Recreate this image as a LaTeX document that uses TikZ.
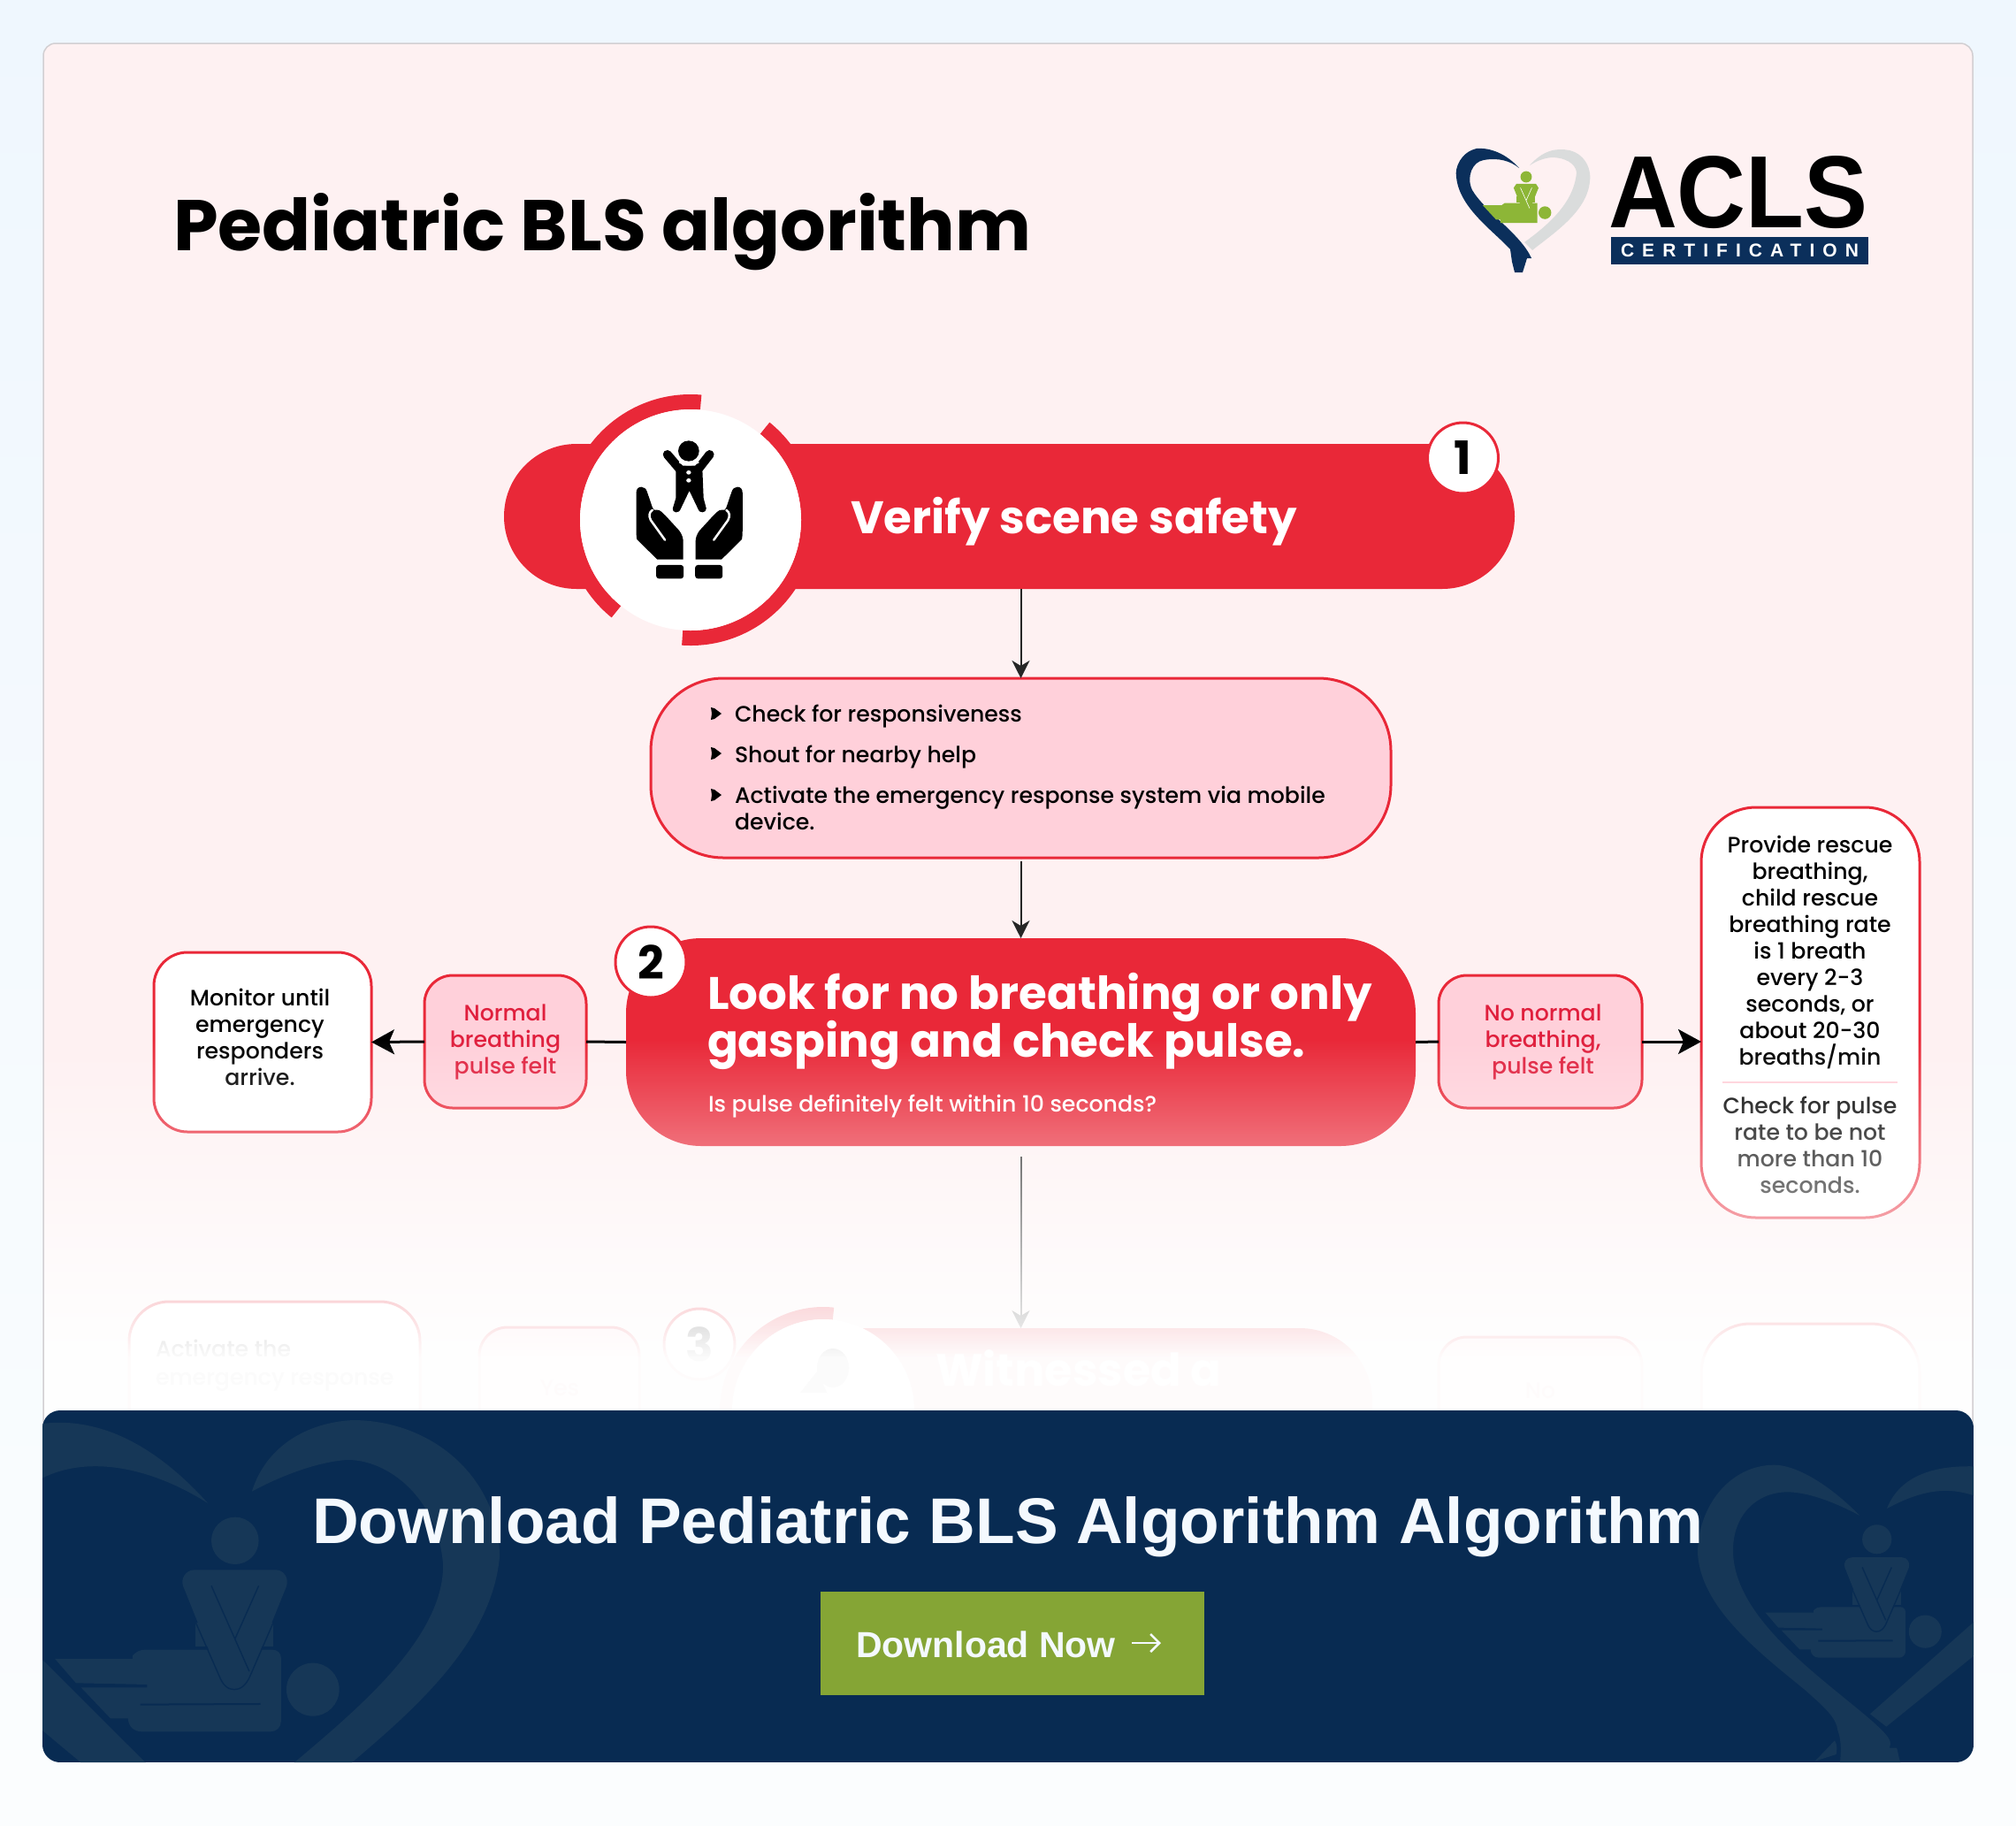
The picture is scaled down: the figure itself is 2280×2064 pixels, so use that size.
\documentclass[tikz,border=0pt]{standalone}
\usepackage{fontspec}
\usetikzlibrary{arrows.meta,fadings,calc}
\newfontfamily\popr{Poppins}
\newfontfamily\popm{Poppins Medium}
\newfontfamily\popb{Poppins}[UprightFont=* Bold]
\newfontfamily\libb{Liberation Sans}[UprightFont=* Bold]
\definecolor{pagetop}{HTML}{EFF7FE}
\definecolor{pagebot}{HTML}{FBFDFE}
\definecolor{cardbg}{HTML}{FEF1F2}
\definecolor{cardline}{HTML}{D2CFD2}
\definecolor{bred}{HTML}{E92838}
\definecolor{bpink}{HTML}{FFD0DA}
\definecolor{tred}{HTML}{E01F3D}
\definecolor{navy}{HTML}{082B52}
\definecolor{navyl}{HTML}{163757}
\definecolor{logonavy}{HTML}{0B2F5B}
\definecolor{logogrey}{HTML}{DADCDC}
\definecolor{logogreen}{HTML}{8DB637}
\definecolor{btn}{HTML}{85A535}
\definecolor{btxt}{HTML}{F4F9FE}
\tikzfading[name=cardfade,top color=transparent!100,bottom color=transparent!0]
\newcommand{\fs}[1]{\fontsize{#1}{#1}\selectfont}
% CPR figure, drawn in the coordinates of the large banner figure
\newcommand{\cprfigure}[2]{%
  \fill[#1] (590,457) ellipse [x radius=70,y radius=80];
  \fill[#1] (820,962) ellipse [x radius=78,y radius=90];
  \fill[#1] (472,735) rectangle (703,815);
  \fill[#1] (288,846) .. controls (300,832) and (310,827) .. (325,827) -- (700,827)
     .. controls (715,827) and (726,838) .. (726,855) -- (726,1070)
     .. controls (726,1090) and (712,1105) .. (695,1105) -- (315,1105)
     .. controls (290,1105) and (274,1085) .. (274,1060) -- (222,1060) -- (135,955)
     -- (330,955) -- (330,945) -- (120,940) -- (58,858) -- (288,858) -- cycle;
  \draw[#2,line width=2pt] (310,1013) -- (665,1011);
  \fill[#1] (470,556) -- (710,556) .. controls (735,556) and (750,585) .. (742,612)
     -- (635,915) .. controls (622,950) and (605,962) .. (588,962)
     .. controls (570,962) and (555,950) .. (543,915) -- (437,612)
     .. controls (428,585) and (445,556) .. (470,556) -- cycle;
  \draw[#2,line width=1.4pt] (520,610) -- (632,900) (660,610) -- (590,790);
  \draw[#2,line width=1.4pt] (474,735) -- (543,915) .. controls (555,950) and (570,962) .. (588,962)
     .. controls (605,962) and (622,950) .. (635,915) -- (703,735);
}
\tikzset{
  every node/.style={inner sep=0pt,outer sep=0pt},
  red lw/.style={line width=3pt},
  box/.style={draw=bred,red lw,fill=white,align=center,text=black},
  pinkbox/.style={draw=bred,red lw,fill=bpink,align=center,text=tred},
  numdisc/.style={circle,draw=bred,red lw,fill=white,minimum size=80pt,text=black,font=\popb\fs{52}},
  arrowv/.style={draw=black!85,line width=2pt,-{Stealth[length=20pt,width=20pt,inset=6pt]}},
  arrowh/.style={draw=black,line width=3pt,-{Stealth[length=26pt,width=28pt,inset=6pt]}},
  lineh/.style={draw=black,line width=3pt},
  boxfont/.style={font=\popm\fontsize{25.2}{30}\selectfont},
  boxtext/.style={boxfont,text=black,align=left,anchor=base west},
}
\newcommand{\bulletmark}[2]{%
  \fill[black] ({#1-4},{#2-7}) -- (#1,{#2-6}) -- ({#1+8},#2) -- (#1,{#2+6}) -- ({#1-4},{#2+7}) -- ({#1-3},#2) -- cycle;}
\newcommand{\lobehalf}{%
  \fill (443,412) .. controls (443,398) and (450,392) .. (458,392) .. controls (466,392) and (472,398) .. (475,408)
    -- (491,462) .. controls (492,470) and (498,472) .. (505,470) .. controls (515,470) and (520,480) .. (530,490)
    -- (570,540) .. controls (578,552) and (582,565) .. (582,580) -- (582,638) -- (505,638)
    -- (445,570) .. controls (443,560) and (443,545) .. (443,530) -- cycle;
  \draw[white,line width=2.5pt,line cap=round] (491,470) .. controls (480,480) and (480,490) .. (486,505) -- (528,572);
  \fill[rounded corners=3pt] (502,657) rectangle (583,703);
}
\begin{document}
\begin{tikzpicture}[x=1pt,y=-1pt]
\useasboundingbox (0,0) rectangle (2280,2064);
% page
\shade[top color=pagetop,bottom color=pagebot] (0,0) rectangle (2280,2064);
% card
\fill[cardbg,rounded corners=14pt] (49,49) rectangle (2231,1620);

% logo
\fill[logonavy] (1718,190) .. controls (1700,170) and (1680,167) .. (1670,168)
  .. controls (1652,172) and (1645,190) .. (1647,200) .. controls (1650,235) and (1690,262) .. (1708,282)
  -- (1710,296) -- (1713,308) -- (1722,308) -- (1727,292) -- (1732,292)
  .. controls (1720,265) and (1680,240) .. (1665,215) .. controls (1658,200) and (1665,183) .. (1678,181)
  .. controls (1695,178) and (1708,182) .. (1718,190) -- cycle;
\fill[logogrey] (1730,187) .. controls (1745,170) and (1760,167) .. (1775,170)
  .. controls (1795,175) and (1800,195) .. (1798,205) .. controls (1795,240) and (1755,265) .. (1733,283)
  -- (1724,274) .. controls (1750,255) and (1780,230) .. (1783,195)
  .. controls (1782,185) and (1770,178) .. (1755,178) .. controls (1745,179) and (1738,182) .. (1730,187) -- cycle;
\begin{scope}[shift={(1671.6,163.3)},x=.0922pt,y=-.0803pt]
  \fill[logogreen] (590,457) ellipse [x radius=70,y radius=80];
  \fill[logogreen] (820,962) ellipse [x radius=78,y radius=90];
  \fill[logogreen] (472,735) rectangle (703,815);
  \fill[logogreen] (58,858) -- (288,858) -- (325,827) -- (726,827) -- (726,1105) -- (274,1105) -- (274,1060) -- (222,1060) -- cycle;
  \fill[logogreen] (470,556) -- (710,556) -- (742,612) -- (635,915) -- (588,962) -- (543,915) -- (437,612) -- cycle;
  \draw[white,line width=.6pt] (520,610) -- (632,900) (660,610) -- (590,790);
\end{scope}
\node[anchor=base west,font=\libb\fs{116}] (aclstext) at (1819,257) {\scalebox{.93}[1]{ACLS}};
\node[fill=logonavy,minimum width=291pt,minimum height=31pt,text=white,font=\libb\fs{21}] (certbar) at (1967.5,283.5)
  {\addfontfeature{LetterSpace=43}CERTIFICATION};
\node[anchor=base west,font=\popb\fs{81.2}] (title) at (196,283) {Pediatric BLS algorithm};

% step 1
\node[fill=bred,rounded corners=82pt,minimum width=1143pt,minimum height=164pt] (verify) at (1141.5,584) {};
\begin{scope}[shift={(781,588)},y=1pt]
  \fill[cardbg] (0,0) circle [radius=126];
  \fill[bred] (85:142) arc [start angle=85,end angle=231,radius=142] -- (231:125) arc [start angle=231,end angle=85,radius=125] -- cycle;
  \fill[bred] (266:142) arc [start angle=266,end angle=411,radius=142] -- (411:125) arc [start angle=411,end angle=266,radius=125] -- cycle;
\end{scope}
\node[circle,fill=white,minimum size=250pt] (safedisc) at (781,588) {};
% icon
\begin{scope}[cm={.3827,0,0,.3333,(550pt,-420pt)},x=1pt,y=-1pt]
  \fill (598,270) ellipse [x radius=31,y radius=35];
  \draw[line width=10pt,line cap=round] (535,282) -- (572,332) (660,282) -- (626,332);
  \fill (560,320) -- (638,320) -- (642,430) -- (650,465) .. controls (650,480) and (630,485) .. (625,465)
    -- (600,405) -- (575,465) .. controls (570,485) and (548,480) .. (551,465) -- (560,430) -- cycle;
  \fill[white] (598,343) circle [radius=7];
  \fill[white] (598,370) circle [radius=7];
  \draw[white,line width=1.5pt] (570,308) .. controls (585,320) and (612,320) .. (628,308);
  \lobehalf
\end{scope}
\begin{scope}[cm={-.3827,0,0,.3333,(1009.3pt,-420pt)},x=1pt,y=-1pt]
  \lobehalf
\end{scope}
\node[anchor=base west,font=\popb\fs{51.5},text=white] (verifytext) at (962,603) {Verify scene safety};
\node[numdisc] (n1) at (1654.5,518) {1};

% step box
\node[pinkbox,minimum width=837pt,minimum height=203pt,rounded corners=82pt] (check) at (1154.5,868.5) {};
\bulletmark{808}{807}
\bulletmark{808}{852}
\bulletmark{808}{899}
\node[boxtext] (c1) at (831,816) {Check for responsiveness};
\node[boxtext] (c2) at (831,862) {Shout for nearby help};
\node[boxtext] (c3) at (831,908) {Activate the emergency response system via mobile};
\node[boxtext] (c4) at (831,938) {device.};

% step 2
\node[fill=bred,rounded corners=85pt,minimum width=893pt,minimum height=235pt] (look) at (1154.5,1178.5) {};
\node[anchor=base west,font=\popb\fs{51.5},text=white] (l1) at (800,1141) {Look for no breathing or only};
\node[anchor=base west,font=\popb\fs{51.5},text=white] (l2) at (800,1195) {gasping and check pulse.};
\node[anchor=base west,font=\popm\fs{25.2},text=white] (l3) at (801,1257) {Is pulse definitely felt within 10 seconds?};
\node[numdisc] (n2) at (736,1088) {2};

\node[pinkbox,boxfont,minimum width=183pt,minimum height=150pt,rounded corners=32pt] (normal) at (571.5,1178)
  {Normal\\breathing\\pulse felt};
\node[box,minimum width=246pt,minimum height=203pt,rounded corners=38pt] (monitor) at (297,1178.5) {};
\node[boxfont,align=center,text=black] (monitortext) at (294,1173) {Monitor until\\emergency\\responders\\arrive.};
\node[pinkbox,minimum width=230pt,minimum height=150pt,rounded corners=32pt] (nonormal) at (1742,1178) {};
\node[boxfont,align=center,text=tred] (nonormaltext) at (1745,1178) {No normal\\breathing,\\pulse felt};
\node[box,minimum width=247pt,minimum height=464pt,rounded corners=62pt] (rescue) at (2047.5,1145) {};
\node[boxfont,align=center,anchor=north] (r1) at (2047,945)
  {Provide rescue\\breathing,\\child rescue\\breathing rate\\is 1 breath\\every 2-3\\seconds, or\\about 20-30\\breaths/min};
\draw[draw=bpink,line width=2pt] (1948,1224) -- (2146,1224);
\node[boxfont,align=center,anchor=north] (r2) at (2047,1240)
  {Check for pulse\\rate to be not\\more than 10\\seconds.};

% step 3, fading away
\node[draw=bred,red lw,fill=white,rounded corners=45pt,minimum width=329pt,minimum height=200pt,anchor=north] (activate) at (310.5,1472) {};
\node[anchor=base west,boxfont,text=black] (a1) at (176,1534) {Activate the};
\node[anchor=base west,boxfont,text=black] (a2) at (176,1566) {emergency response};
\node[draw=bred,red lw,fill=bpink,rounded corners=32pt,minimum width=181pt,minimum height=150pt,anchor=north] (yes) at (632.5,1501) {};
\node[boxfont,text=tred] (yestext) at (633,1570) {Yes};
\node[fill=bred,rounded corners=82pt,minimum width=724pt,minimum height=200pt,anchor=north] (witness) at (1190,1502) {};
\begin{scope}[shift={(931,1595)},y=1pt]
  \fill[bred] (84:117) arc [start angle=84,end angle=180,radius=117] -- (180:103) arc [start angle=180,end angle=84,radius=103] -- cycle;
\end{scope}
\node[circle,fill=white,minimum size=206pt] (witdisc) at (931,1595) {};
\fill[black] (942,1547) ellipse [x radius=18,y radius=22];
\fill[black] (905,1575) -- (925,1550) -- (935,1575) -- cycle;
\node[numdisc] (n3) at (791,1520) {3};
\node[anchor=base west,font=\popb\fs{51},text=white] (wittext) at (1058,1567) {Witnessed a};
\node[draw=bred,red lw,fill=bpink,rounded corners=32pt,minimum width=230pt,minimum height=150pt,anchor=north] (nobox) at (1742,1512) {};
\node[boxfont,text=tred] (notext) at (1742,1573) {No};
\node[draw=bred,red lw,fill=white,rounded corners=55pt,minimum width=247pt,minimum height=200pt,anchor=north] (cont) at (2047.5,1497) {};

% connectors
\draw[arrowv] (verify.south -| check.north) -- (check.north);
\draw[arrowv,shorten <=4pt] (check.south) -- (look.north);
\draw[arrowv,shorten <=12pt] (look.south) -- (look.south |- witness.north);
\draw[lineh] (look.west) -- (normal.east);
\draw[arrowh] (normal.west) -- (monitor.east);
\draw[lineh] (look.east) -- (nonormal.west);
\draw[arrowh] (nonormal.east) -- (nonormal.east -| rescue.west);

% the fade over the lower part of the card
\fill[white,fill opacity=.985,path fading=cardfade] (49,1175) rectangle (2231,1535);
\fill[white,fill opacity=.985] (49,1535) rectangle (2231,1620);
\draw[cardline,line width=1.5pt,rounded corners=14pt] (2231,1620) -- (2231,49) -- (49,49) -- (49,1620);

% banner
\begin{scope}
\clip[rounded corners=20pt] (48,1595) rectangle (2232,1993);
\fill[navy] (48,1595) rectangle (2232,1993);
% left heart
\begin{scope}[shift={(40,1590)},x=.3827pt,y=-.3333pt]
  \fill[navyl] (510,330) .. controls (400,190) and (230,30) .. (20,60) -- (20,245)
     .. controls (150,170) and (330,200) .. (510,330) -- cycle;
  \fill[navyl] (640,290) .. controls (680,140) and (800,55) .. (940,48)
     .. controls (1180,50) and (1370,250) .. (1372,510)
     .. controls (1350,800) and (1120,1030) .. (930,1215) -- (760,1215)
     .. controls (950,1030) and (1205,790) .. (1205,540)
     .. controls (1190,310) and (1040,180) .. (920,183)
     .. controls (830,190) and (720,240) .. (640,290) -- cycle;
  \fill[navyl] (20,860) -- (330,1215) -- (140,1215) -- (20,1100) -- cycle;
  \cprfigure{navyl}{navy}
\end{scope}
% right heart
\begin{scope}[shift={(1880,1590)},x=.3333pt,y=-.3333pt]
  \fill[navyl] (670,372) .. controls (560,260) and (450,200) .. (380,200)
     .. controls (230,200) and (120,340) .. (120,500)
     .. controls (130,680) and (320,830) .. (480,960)
     .. controls (560,1030) and (590,1060) .. (595,1100)
     .. controls (610,1140) and (605,1180) .. (603,1215) -- (810,1215)
     .. controls (800,1190) and (800,1170) .. (795,1160) -- (770,1160) .. controls (780,1140) and (770,1125) .. (740,1095)
     .. controls (600,960) and (240,740) .. (240,490)
     .. controls (240,370) and (320,290) .. (430,292)
     .. controls (510,295) and (600,335) .. (670,372) -- cycle;
  \fill[navyl] (518,1205) -- (585,1135) .. controls (595,1150) and (592,1170) .. (590,1182) -- cycle;
  \fill[navyl] (762,348) .. controls (800,250) and (900,200) .. (1060,205) -- (1060,305)
     .. controls (960,270) and (870,290) .. (762,348) -- cycle;
  \fill[navyl] (705,1045) -- (1060,730) -- (1060,845) -- (760,1088) -- cycle;
\end{scope}
\begin{scope}[shift={(1982.7,1646.3)},x=.2373pt,y=-.2067pt]
  \cprfigure{navyl}{navy}
\end{scope}
\end{scope}
\node[font=\libb\fs{73},text=btxt,anchor=base] (dltitle) at (1140,1745) {Download Pediatric BLS Algorithm Algorithm};
\node[fill=btn,minimum width=434pt,minimum height=117pt] (dlbtn) at (1145,1858.5) {};
\node[font=\libb\fs{41},text=btxt,anchor=base west] (dltext) at (968,1874) {Download Now};
\coordinate (arrS) at (1280,1858);
\coordinate (arrE) at (1313,1858);
\draw[btxt,line width=2.6pt,-{Straight Barb[length=10pt,width=20pt]}] (arrS) -- (arrE);
\end{tikzpicture}
\end{document}
